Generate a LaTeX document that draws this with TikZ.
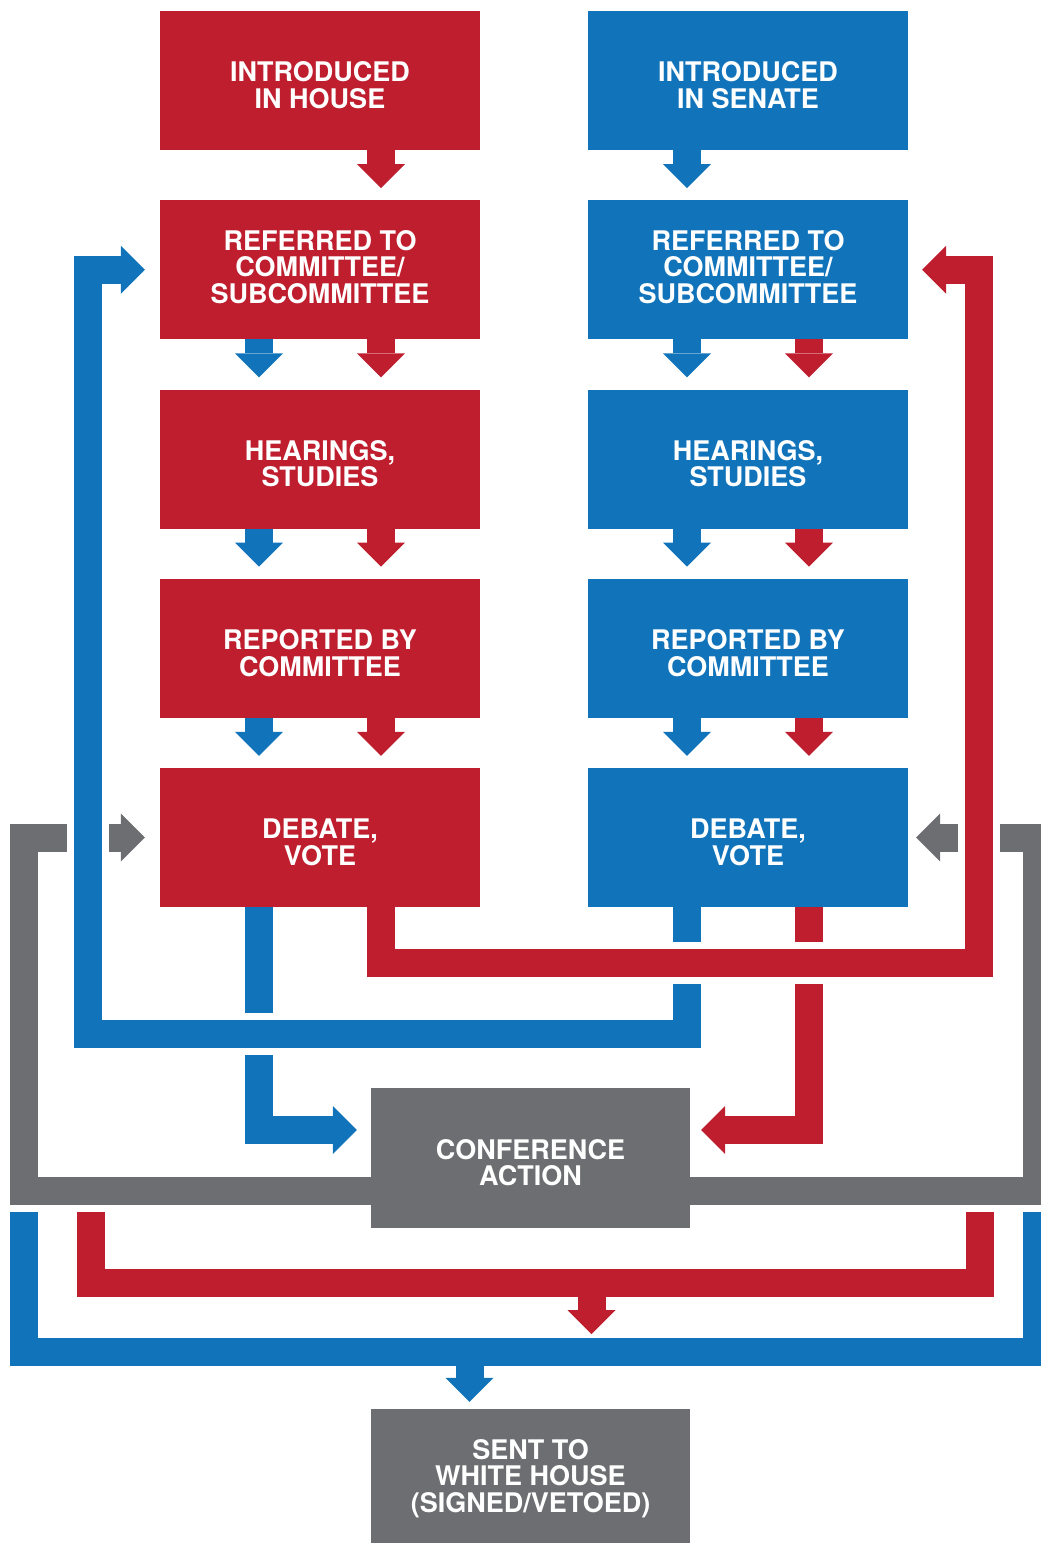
\documentclass[tikz,border=0pt]{standalone}
\usepackage{fontspec}
\setmainfont{TeX Gyre Heros}
\usetikzlibrary{arrows.meta}
\definecolor{housered}{RGB}{190,30,45}
\definecolor{senateblue}{RGB}{17,116,187}
\definecolor{confgray}{RGB}{109,110,113}
\newcommand{\toppad}{\rule{0pt}{29.5pt}}
\newcommand{\botpad}{\rule[-6pt]{0pt}{6pt}}
\begin{document}
\begin{tikzpicture}[x=1pt,y=-1pt]
        \tikzstyle{stage}=[rectangle, inner sep=0pt, minimum width=320pt, minimum height=139pt, text=white, align=center, font=\fontsize{27}{26.4}\selectfont\bfseries]
        \tikzstyle{flow}=[line width=28pt, -{Triangle[width=48pt,length=24pt,line width=0pt]}]
        \tikzstyle{bar}=[line width=28pt]
        \tikzstyle{over}=[preaction={draw=white, line width=42pt, arrows=-}]
        \useasboundingbox (0,0) rectangle (1041,1543);
        \node[stage, fill=housered] (h1) at (320,80.5) {\toppad INTRODUCED\\IN HOUSE};
        \node[stage, fill=senateblue] (s1) at (748,80.5) {\toppad INTRODUCED\\IN SENATE};
        \foreach \i/\txt in {2/{REFERRED TO\\COMMITTEE/\\SUBCOMMITTEE\botpad}, 3/{\toppad HEARINGS,\\STUDIES}, 4/{\toppad REPORTED BY\\COMMITTEE}, 5/{\toppad DEBATE,\\VOTE}} {
            \node[stage, fill=housered] (h\i) at (320,{80.5+189.25*(\i-1)}) {\txt};
            \node[stage, fill=senateblue] (s\i) at (748,{80.5+189.25*(\i-1)}) {\txt};
        }
        \node[stage, fill=confgray, minimum width=319pt, minimum height=140pt] (conf) at (530.5,1158) {\toppad CONFERENCE\\ACTION};
        \node[stage, fill=confgray, minimum width=319pt] (wh) at (530.5,1478.5) {SENT TO\\WHITE HOUSE\\(SIGNED/VETOED)};
        % down the columns
        \foreach \i in {1,2,3,4} {
            \pgfmathtruncatemacro{\k}{\i+1}
            \draw[flow, housered] ([xshift=61pt]h\i.south) -- ([xshift=61pt,yshift=12pt]h\k.north);
            \draw[flow, senateblue] ([xshift=-61pt]s\i.south) -- ([xshift=-61pt,yshift=12pt]s\k.north);
        }
        \foreach \i in {2,3,4} {
            \pgfmathtruncatemacro{\k}{\i+1}
            \draw[flow, senateblue] ([xshift=-61pt]h\i.south) -- ([xshift=-61pt,yshift=12pt]h\k.north);
            \draw[flow, housered] ([xshift=61pt]s\i.south) -- ([xshift=61pt,yshift=12pt]s\k.north);
        }
        % back from conference
        \draw[flow, confgray] ([yshift=-33pt]conf.west) -| (24,837.5) -- ([xshift=-15pt]h5.west);
        \draw[flow, confgray] ([yshift=-33pt]conf.east) -| (1037,837.5) -- ([xshift=8pt]s5.east);
        % to conference and to the other chamber
        \draw[flow, senateblue] ([xshift=-61pt]h5.south) |- ([xshift=-14pt,yshift=28pt]conf.west);
        \draw[flow, housered] ([xshift=61pt]s5.south) |- ([xshift=11pt,yshift=28pt]conf.east);
        \draw[flow, senateblue, over] ([xshift=-61pt]s5.south) |- (88,1034) |- ([xshift=-15pt]h2.west);
        \draw[flow, housered, over] ([xshift=61pt]h5.south) |- (979,963) |- ([xshift=14pt]s2.east);
        % to the white house
        \coordinate (redbar) at (591.5,1283);
        \coordinate (redtip) at (591.5,1334);
        \coordinate (bluebar) at (469.5,1352);
        \draw[bar, housered] (90.5,1212) |- (979.5,1283) -- (979.5,1212);
        \draw[flow, housered] (redbar) -- (redtip);
        \draw[bar, senateblue] (24,1212) |- (1037,1352) -- (1037,1212);
        \draw[flow, senateblue] (bluebar) -- ([xshift=-61pt,yshift=7pt]wh.north);
      \end{tikzpicture}
\end{document}
